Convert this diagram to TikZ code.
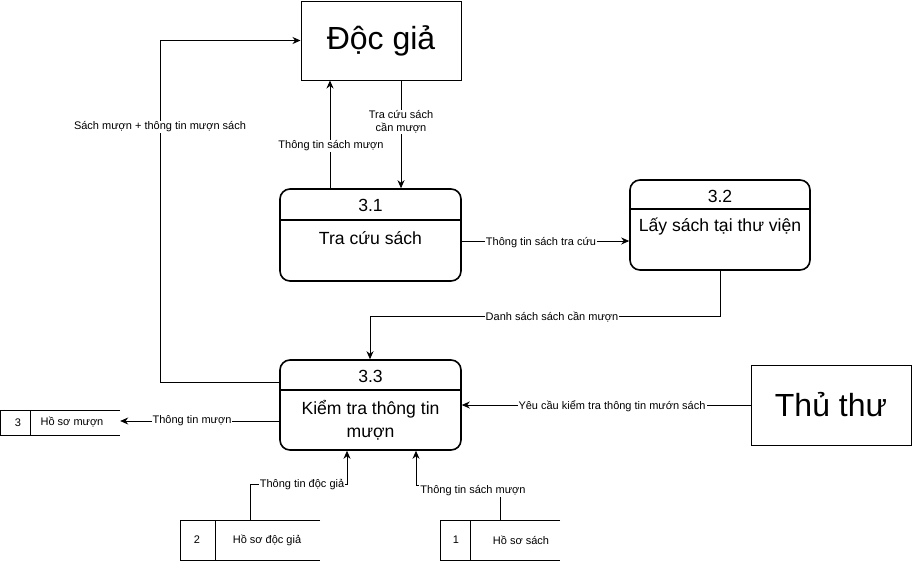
\documentclass[tikz,border=0pt]{standalone}
\usepackage{fontspec}
\setmainfont{Liberation Sans}
\usetikzlibrary{arrows.meta}
\begin{document}
\begin{tikzpicture}[x=1pt,y=-1pt,
 proc/.style={draw, line width=1.6pt, rounded corners=10pt, inner sep=0},
 ent/.style={draw, line width=1pt, inner sep=0, font=\fontsize{32}{36}\selectfont},
 ptext/.style={font=\fontsize{17.6}{23}\selectfont, align=center, inner sep=0},
 lbl/.style={font=\fontsize{11}{13}\selectfont, fill=white, inner sep=1pt, align=center},
 stxt/.style={font=\fontsize{11}{13}\selectfont, inner sep=0},
 store/.style={draw, line width=0.8pt},
 flow/.style={line width=0.8pt, -{Stealth[length=8pt,width=7pt]}}
]
\useasboundingbox (0,0) rectangle (912,563);

% external entities
\node[ent, minimum width=160pt, minimum height=79pt] (docgia) at (381,40.5) {Độc giả};
\node[ent, minimum width=160pt, minimum height=80pt] (thuthu) at (831,405) {Thủ thư};

% processes
\node[proc, minimum width=181pt, minimum height=92pt] (p31) at (370.5,235) {};
\draw[line width=1.5pt] (p31.west |- 0,220) -- (p31.east |- 0,220);
\node[ptext] (t31) at (370.5,205) {3.1};
\node[ptext] (n31) at (370.5,238) {Tra cứu sách};

\node[proc, minimum width=180pt, minimum height=90pt] (p32) at (720,225) {};
\draw[line width=1.5pt] (p32.west |- 0,209) -- (p32.east |- 0,209);
\node[ptext] (t32) at (720,196) {3.2};
\node[ptext] (n32) at (720,227) {Lấy sách tại thư viện};

\node[proc, minimum width=181pt, minimum height=90pt] (p33) at (370.5,405) {};
\draw[line width=1.5pt] (p33.west |- 0,390) -- (p33.east |- 0,390);
\node[ptext] (t33) at (370.5,376) {3.3};
\node[ptext] (n33) at (370.5,420) {Kiểm tra thông tin\\mượn};

% data stores
\node[minimum width=120pt, minimum height=25pt, inner sep=0] (st3) at (60,422.5) {};
\draw[store] (120,410) -- (0.5,410) -- (0.5,435) -- (120,435);
\draw[store] (30,410) -- (30,435);
\node[stxt] (s3n) at (18,422.5) {3};
\node[stxt] (s3t) at (72,422.5) {Hồ sơ mượn};

\node[minimum width=140pt, minimum height=40pt, inner sep=0] (st2) at (250,540) {};
\draw[store] (320,520) -- (180,520) -- (180,560) -- (320,560);
\draw[store] (215,520) -- (215,560);
\node[stxt] (s2n) at (197,540) {2};
\node[stxt] (s2t) at (267,540) {Hồ sơ độc giả};

\node[minimum width=120pt, minimum height=40pt, inner sep=0] (st1) at (500,540) {};
\draw[store] (560,520) -- (440,520) -- (440,560) -- (560,560);
\draw[store] (470,520) -- (470,560);
\node[stxt] (s1n) at (456,540) {1};
\node[stxt] (s1t) at (521,540) {Hồ sơ sách};

% flows
\draw[flow] (p31.north -| 330,0) -- (docgia.south -| 330,0);
\node[lbl] (l1) at (331,146) {Thông tin sách mượn};

\draw[flow] (docgia.south -| 401,0) -- (p31.north -| 401,0);
\node[lbl] (l2) at (401,122) {Tra cứu sách\\cần mượn};

\draw[flow] (p33.west |- 0,382) -- (160,382) -- (160,40.5) -- (docgia.west);
\node[lbl] (l3) at (160,127) {Sách mượn + thông tin mượn sách};

\draw[flow] (p31.east |- 0,241) -- (p32.west |- 0,241);
\node[lbl] (l4) at (541,243) {Thông tin sách tra cứu};

\draw[flow] (p32.south) -- (720,316) -- (370,316) -- (p33.north -| 370,0);
\node[lbl] (l5) at (552,317) {Danh sách sách cần mượn};

\draw[flow] (p33.west |- 0,421) -- (st3.east |- 0,421);
\node[lbl] (l6) at (192,421) {Thông tin mượn};

\draw[flow] (thuthu.west) -- (p33.east);
\node[lbl] (l7) at (612,406) {Yêu cầu kiểm tra thông tin mướn sách};

\draw[flow] (st2.north) -- (250,484) -- (347,484) -- (p33.south -| 347,0);
\node[lbl] (l8) at (302,485) {Thông tin độc giả};

\draw[flow] (st1.north) -- (500,485) -- (416,485) -- (p33.south -| 416,0);
\node[lbl] (l9) at (473,491) {Thông tin sách mượn};
\end{tikzpicture}
\end{document}
